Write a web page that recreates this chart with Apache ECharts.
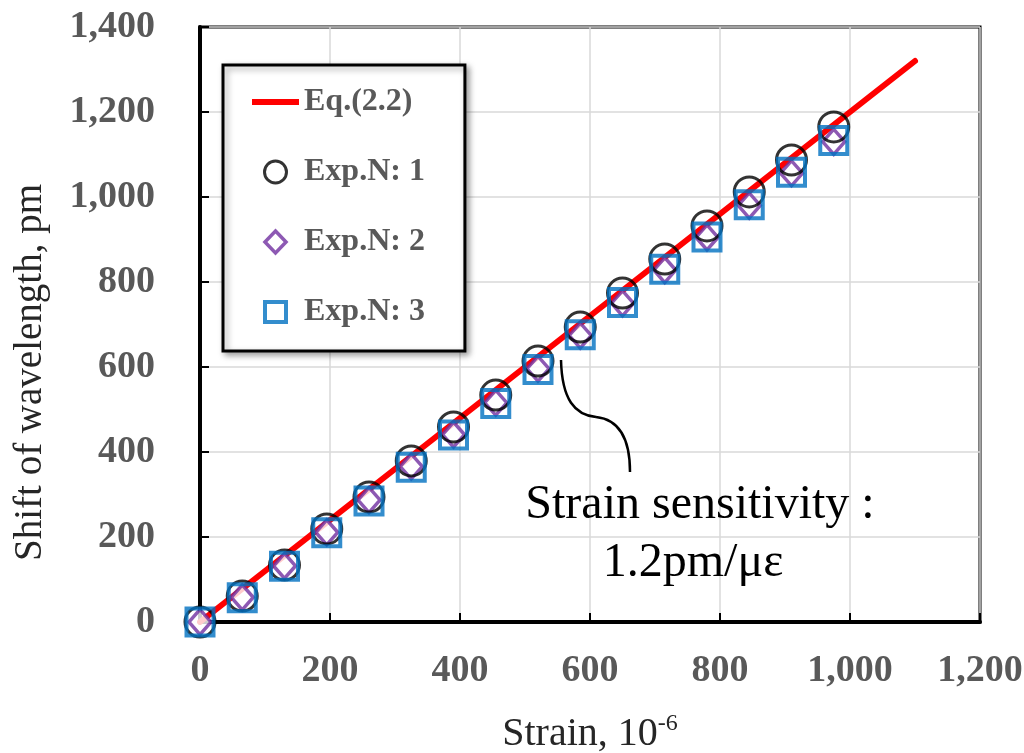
<!DOCTYPE html>
<html>
<head>
<meta charset="utf-8">
<script src="https://cdn.jsdelivr.net/npm/echarts@6/dist/echarts.min.js"></script>
<style>
html,body{margin:0;padding:0;background:#fff;}
#chart{width:1024px;height:753px;}
</style>
</head>
<body>
<div id="chart"></div>
<script>
// ---- data ----
const strain = [0, 65, 130, 195, 260, 325, 390, 455, 520, 585, 650, 715, 780, 845, 910, 975];
const exp1 = [0, 61, 134, 219, 294, 379, 459, 534, 614, 694, 774, 854, 932, 1012, 1087, 1165];
const exp2 = [0, 58, 132, 211, 287, 366, 441, 516, 596, 674, 750, 828, 905, 980, 1056, 1130];
const exp3 = [0, 57, 131, 210, 285, 364, 440, 514, 594, 676, 752, 830, 906, 982, 1058, 1133];
const eqStrain = [0, 1100];
const eqShift = [0, 1320];
const seriesNames = ['Eq.(2.2)', 'Exp.N: 1', 'Exp.N: 2', 'Exp.N: 3'];
const xTicks = [0, 200, 400, 600, 800, 1000, 1200];
const yTicks = [0, 200, 400, 600, 800, 1000, 1200, 1400];
const annotationLines = ['Strain sensitivity :', '1.2pm/\u03BC\u03B5'];

const zip = (a, b) => a.map((v, i) => [v, b[i]]);
const fmt = v => Number(v).toLocaleString('en-US');
const serif = 'Liberation Serif';

const chart = echarts.init(document.getElementById('chart'), null, {renderer: 'canvas'});
const option = {
  backgroundColor: '#fff',
  animation: false,
  grid: {left: 200, top: 27, right: 44, bottom: 131, containLabel: false, outerBoundsMode: 'none',
    show: true, borderColor: '#000', borderWidth: 3, backgroundColor: 'transparent'},
  xAxis: {
    type: 'value', min: xTicks[0], max: xTicks[xTicks.length - 1], interval: 200,
    name: '{n|Strain, 10}{s|-6}', nameLocation: 'middle', nameGap: 90,
    nameTextStyle: {rich: {
      n: {fontFamily: serif, fontSize: 40, color: '#262626', lineHeight: 44},
      s: {fontFamily: serif, fontSize: 24, color: '#262626', verticalAlign: 'top', lineHeight: 24}
    }},
    axisLine: {show: true, onZero: false, lineStyle: {color: '#000', width: 4}},
    axisTick: {show: true, inside: true, length: 9, lineStyle: {color: '#000', width: 2}},
    axisLabel: {margin: 30, fontFamily: serif, fontWeight: 'bold', fontSize: 38, color: '#595959', formatter: fmt},
    splitLine: {show: true, lineStyle: {color: '#d9d9d9', width: 1.5}}
  },
  yAxis: {
    type: 'value', min: yTicks[0], max: yTicks[yTicks.length - 1], interval: 200,
    name: 'Shift of wavelength, pm', nameLocation: 'middle', nameGap: 150,
    nameTextStyle: {fontFamily: serif, fontSize: 39, color: '#262626', padding: [0, 96, 0, 0]},
    axisLine: {show: true, onZero: false, lineStyle: {color: '#000', width: 4}},
    axisTick: {show: true, inside: true, length: 9, lineStyle: {color: '#000', width: 2}},
    axisLabel: {margin: 45, fontFamily: serif, fontWeight: 'bold', fontSize: 38, color: '#595959', formatter: fmt},
    splitLine: {show: true, lineStyle: {color: '#d9d9d9', width: 1.5}}
  },
  legend: {
    orient: 'vertical', left: 223, top: 65,
    symbolKeepAspect: true,
    data: [
      {name: seriesNames[0], icon: 'path://M0,0 M47,22 M0,8 L47,8 L47,14 L0,14 Z', itemStyle: {color: '#ff0000', borderWidth: 0}},
      {name: seriesNames[1], icon: 'circle', itemStyle: {color: '#fff', borderColor: '#000', borderWidth: 3}},
      {name: seriesNames[2], icon: 'path://M0,0 M47,22 M23.5,-1 L35,11 L23.5,23 L12,11 Z', itemStyle: {color: '#fff', borderColor: '#7030A0', borderWidth: 3.5}},
      {name: seriesNames[3], icon: 'path://M0,0 M47,22 M13,1 L34,1 L34,21 L13,21 Z', itemStyle: {color: '#fff', borderColor: '#0070C0', borderWidth: 4}}
    ],
    itemWidth: 47, itemHeight: 22, itemGap: 34,
    padding: [19, 40, 21, 27],
    backgroundColor: '#fff', borderColor: '#000', borderWidth: 3,
    shadowColor: 'rgba(0,0,0,0.35)', shadowBlur: 6, shadowOffsetX: 3, shadowOffsetY: 3,
    textStyle: {fontFamily: serif, fontWeight: 'bold', fontSize: 32, color: '#595959', lineHeight: 36},
    selectedMode: false
  },
  series: [
    {
      name: seriesNames[0], type: 'line', data: zip(eqStrain, eqShift), symbol: 'none', z: 1,
      lineStyle: {color: '#ff0000', width: 6, cap: 'round'}, itemStyle: {color: '#ff0000'}
    },
    {
      name: seriesNames[2], type: 'scatter', data: zip(strain, exp2), symbol: 'diamond', symbolSize: [22, 25], z: 2, clip: false,
      itemStyle: {color: '#fff', borderColor: '#7030A0', borderWidth: 3.5}
    },
    {
      name: seriesNames[1], type: 'scatter', data: zip(strain, exp1), symbol: 'circle', symbolSize: 30, z: 3, clip: false,
      itemStyle: {color: 'rgba(0,0,0,0)', borderColor: '#000', borderWidth: 3}
    },
    {
      name: seriesNames[3], type: 'scatter', data: zip(strain, exp3), symbol: 'rect', symbolSize: 27, z: 4, clip: false,
      itemStyle: {color: 'rgba(0,0,0,0)', borderColor: '#0070C0', borderWidth: 4}
    }
  ],
  graphic: [
    {type: 'text', x: 700, y: 505, z: 10,
      style: {text: annotationLines[0], font: '48px "Liberation Serif"', fill: '#000', textAlign: 'center', textVerticalAlign: 'middle'}},
    {type: 'text', x: 693, y: 563, z: 10,
      style: {text: annotationLines[1], font: '48px "Liberation Serif"', fill: '#000', textAlign: 'center', textVerticalAlign: 'middle'}},
    {type: 'bezierCurve', z: 10,
      shape: {x1: 561, y1: 360, cpx1: 562, cpy1: 400, cpx2: 575, cpy2: 415, x2: 596, y2: 417},
      style: {stroke: '#000', lineWidth: 2.5, fill: null}},
    {type: 'bezierCurve', z: 10,
      shape: {x1: 596, y1: 417, cpx1: 624, cpy1: 420, cpx2: 630, cpy2: 448, x2: 630, y2: 472},
      style: {stroke: '#000', lineWidth: 2.5, fill: null}}
  ]
};
chart.setOption(option);
</script>
</body>
</html>
